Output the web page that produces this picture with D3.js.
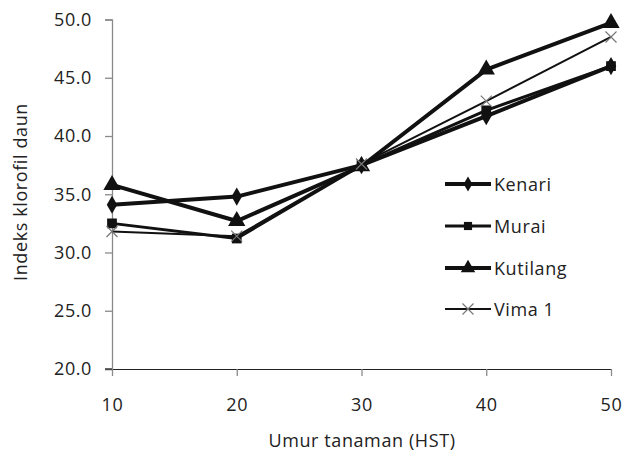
<!DOCTYPE html>
<html><head><meta charset="utf-8">
<script src="https://cdn.jsdelivr.net/npm/d3@7"></script>
<style>body{margin:0;background:#fff}svg{display:block}</style>
</head><body>
<svg id="c" width="625" height="464"></svg>
<script>
const days = [10, 20, 30, 40, 50];
const kenari = [34.1, 34.8, 37.5, 41.7, 46.0];
const murai = [32.5, 31.2, 37.5, 42.2, 46.0];
const kutilang = [35.8, 32.7, 37.4, 45.7, 49.7];
const vima1 = [31.8, 31.4, 37.6, 43.0, 48.5];
const seriesNames = ["Kenari", "Murai", "Kutilang", "Vima 1"];
const yTicks = [20, 25, 30, 35, 40, 45, 50];

const series = [
  {name: seriesNames[0], values: kenari, w: 4, sym: d3.symbolDiamond, size: 95, fill: "#111"},
  {name: seriesNames[1], values: murai, w: 3, sym: d3.symbolSquare, size: 95, fill: "#111"},
  {name: seriesNames[2], values: kutilang, w: 4, sym: d3.symbolTriangle, size: 130, fill: "#111"},
  {name: seriesNames[3], values: vima1, w: 2, sym: d3.symbolCross, size: 0, fill: "none"}
];

const svg = d3.select("#c");
const x = d3.scaleLinear().domain([10, 50]).range([112, 611]);
const y = d3.scaleLinear().domain([20, 50]).range([369, 19.5]);
const font = "'Open Sans', 'Noto Sans', sans-serif";
const fs = 18, ls = 0.6;
const axisCol = "#8a8a8a";

// y axis
const ya = svg.append("g").attr("transform", "translate(112,0)")
  .call(d3.axisLeft(y).tickValues(yTicks).tickSize(7).tickPadding(13).tickFormat(d3.format(".1f")));
ya.select(".domain").attr("stroke", axisCol).attr("stroke-width", 1.3);
ya.selectAll(".tick line").attr("stroke", axisCol).attr("stroke-width", 1.3);
ya.selectAll("text").attr("font-family", font).attr("font-size", fs).attr("letter-spacing", ls).attr("fill", "#222");

// x axis
const xa = svg.append("g").attr("transform", "translate(0,369)")
  .call(d3.axisBottom(x).tickValues(days).tickSize(7).tickSizeOuter(0).tickPadding(22).tickFormat(d3.format("d")));
xa.select(".domain").attr("stroke", "#222").attr("stroke-width", 1.2);
xa.selectAll(".tick line").attr("stroke", axisCol).attr("stroke-width", 1.3);
xa.selectAll("text").attr("font-family", font).attr("font-size", fs).attr("letter-spacing", ls).attr("fill", "#222");
svg.append("line").attr("x1", 105).attr("x2", 112).attr("y1", 369).attr("y2", 369).attr("stroke", "#222").attr("stroke-width", 1.2);

// titles
svg.append("text").attr("x", 362).attr("y", 447).attr("text-anchor", "middle")
  .attr("font-family", font).attr("font-size", fs).attr("letter-spacing", ls).attr("fill", "#222").text("Umur tanaman (HST)");
svg.append("text").attr("transform", "translate(27,192) rotate(-90)").attr("text-anchor", "middle")
  .attr("font-family", font).attr("font-size", fs).attr("letter-spacing", ls).attr("fill", "#222").text("Indeks klorofil daun");

const line = d3.line().x((d, i) => x(days[i])).y(d => y(d));

function drawMarker(g, s, cx, cy) {
  if (s.name === "Vima 1") {
    const r = 5.5;
    g.append("path").attr("d", `M${cx - r},${cy - r}L${cx + r},${cy + r}M${cx - r},${cy + r}L${cx + r},${cy - r}`)
      .attr("stroke", "#777").attr("stroke-width", 1.2).attr("fill", "none");
  } else {
    g.append("path").attr("d", d3.symbol().type(s.sym).size(s.size)())
      .attr("transform", `translate(${cx},${cy})`).attr("fill", s.fill);
  }
}

series.forEach(s => {
  const g = svg.append("g");
  g.append("path").datum(s.values).attr("d", line).attr("fill", "none")
    .attr("stroke", "#111").attr("stroke-width", s.w).attr("stroke-linejoin", "round");
  s.values.forEach((v, i) => drawMarker(g, s, x(days[i]), y(v)));
});

// legend
const legY = [184, 226, 268, 309];
series.forEach((s, i) => {
  const g = svg.append("g");
  g.append("line").attr("x1", 445).attr("x2", 491).attr("y1", legY[i]).attr("y2", legY[i])
    .attr("stroke", "#111").attr("stroke-width", s.w);
  const ms = Object.assign({}, s, {size: s.size * 0.7});
  drawMarker(g, ms, 468, legY[i]);
  g.append("text").attr("x", 494).attr("y", legY[i] + 6.5).attr("font-family", font)
    .attr("font-size", fs).attr("letter-spacing", ls).attr("fill", "#222").text(s.name);
});
</script>
</body></html>
